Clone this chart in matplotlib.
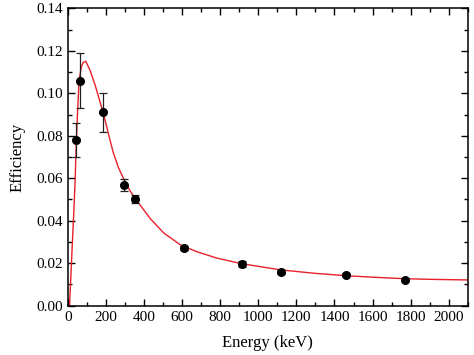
#!/usr/bin/env python

# Detector efficiency vs gamma energy, measured points with fitted curve

import matplotlib
matplotlib.use('Agg')
import matplotlib.pyplot as plt
from matplotlib.ticker import MultipleLocator

# Measured efficiencies (keV, efficiency, 1-sigma error)
energy=[42, 63, 186, 295, 351, 609, 914, 1121, 1463, 1768]
efficiency=[0.078, 0.106, 0.091, 0.0568, 0.0503, 0.0271, 0.0196, 0.0160, 0.0146, 0.0122]
eff_err=[0.008, 0.013, 0.009, 0.003, 0.002, 0.0008, 0.0015, 0.001, 0.0008, 0.0008]

# Fitted curve
fit_energy=[8, 21, 30, 37, 44, 49, 58, 70, 80, 93, 116, 142, 168, 186, 212,
            238, 265, 296, 325, 353, 432, 502, 589, 677, 782, 905, 1000,
            1121, 1300, 1463, 1600, 1768, 1900, 2100]
fit_eff=[0.0, 0.026, 0.043, 0.058, 0.078, 0.089, 0.106, 0.1124, 0.1145,
         0.1151, 0.1108, 0.1040, 0.0960, 0.0905, 0.0810, 0.0720, 0.0650,
         0.0590, 0.0542, 0.0505, 0.0410, 0.0343, 0.0287, 0.0254, 0.0224,
         0.0199, 0.0185, 0.0168, 0.0152, 0.0141, 0.0134, 0.0127, 0.0124,
         0.0121]

plt.rcParams['font.family']=['Liberation Serif', 'DejaVu Serif']
plt.rcParams['font.size']=11

fig=plt.figure(figsize=(4.74,3.55), dpi=100, facecolor='white')
ax=fig.add_axes([0.1435,0.139,0.8432,0.8375])

ax.plot(fit_energy, fit_eff, color='#e8202a', linewidth=1.0, zorder=2)
ax.errorbar(energy, efficiency, yerr=eff_err,
            fmt='o', color='black', ecolor='#222222',
            markersize=5.5, elinewidth=0.9, capsize=3, capthick=0.9,
            zorder=3)

ax.set_xlim(0, 2100)
ax.set_ylim(0, 0.14)
ax.xaxis.set_major_locator(MultipleLocator(200))
ax.xaxis.set_minor_locator(MultipleLocator(100))
ax.yaxis.set_major_locator(MultipleLocator(0.02))
ax.yaxis.set_minor_locator(MultipleLocator(0.01))
ax.yaxis.set_major_formatter(matplotlib.ticker.FormatStrFormatter('%.2f'))
ax.tick_params(which='both', direction='in', top=True, right=True, width=1.0)
ax.tick_params(which='major', length=5, labelsize=11)
ax.tick_params(which='minor', length=3)
for s in ax.spines.values():
    s.set_linewidth(1.1)

ax.set_xlabel('Energy (keV)', fontsize=12, labelpad=8)
ax.set_ylabel('Efficiency', fontsize=12, labelpad=8)

fig.savefig('out.png', dpi=100)
